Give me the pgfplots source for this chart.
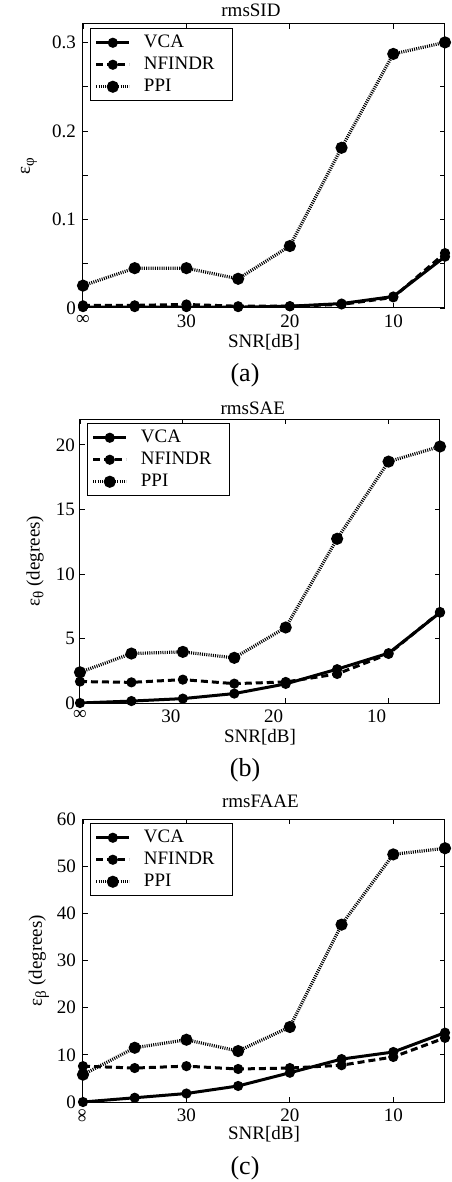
\documentclass[border=0pt]{standalone}
\usepackage{fontspec}
\setmainfont{Liberation Serif}
\usepackage{graphicx}
\usepackage{pgfplots}
\pgfplotsset{compat=1.18}

\newcommand{\fs}{\fontsize{9.5}{11}\selectfont}
\newcommand{\fcap}{\fontsize{13}{15}\selectfont}
\newcommand{\sub}[1]{\raisebox{-0.45ex}{\fontsize{7.5}{8}\selectfont #1}}

\pgfplotsset{
  panel/.style={
    scale only axis, width=181pt, height=142pt,
    xmin=5, xmax=40, x dir=reverse,
    xtick={40,30,20,10},
    tick align=inside, xtick pos=both, ytick pos=both,
    major tick length=2.5pt,
    axis line style={line width=0.5pt},
    every tick/.style={black, line width=0.4pt},
    tick label style={font=\fs},
    /pgf/number format/assume math mode=true,
    label style={font=\fs},
    xlabel={SNR[dB]},
    xlabel style={at={(axis description cs:0.5,0)}, anchor=center, yshift=-17pt},
    title style={font=\fs, anchor=center},
    legend style={at={(axis description cs:0.02,0.985)}, anchor=north west,
      font=\fs, draw=black, line width=0.5pt, inner xsep=2pt, inner ysep=1.5pt,
      /tikz/column sep=5pt,
      nodes={inner sep=1.5pt, text height=6.5pt, text depth=1.5pt, text width=41pt, align=left}},
    legend cell align=left,
    legend image code/.code={\draw[mark repeat=2, mark phase=2, #1]
      plot coordinates {(0pt,0pt) (8.25pt,0pt) (16.5pt,0pt)};},
  },
  vca/.style={black, line width=1.5pt, mark=*, mark size=1.75pt, mark options={solid}},
  nf/.style={black, line width=1.5pt, dash pattern=on 3.5pt off 2pt, mark=*, mark size=1.75pt, mark options={solid}},
  ppi/.style={black, line width=1.6pt, dash pattern=on 0.5pt off 0.6pt, mark=*, mark size=2.2pt, mark options={solid}},
}

\begin{document}
\begin{tikzpicture}
% (a)
\begin{axis}[panel, at={(41.5pt,-12pt)}, anchor=north west,
  ymin=0, ymax=0.3208,
  ytick={0,0.05,0.1,0.15,0.2,0.25,0.3},
  yticklabels={0,,0.1,,0.2,,0.3},
  xticklabels={∞,30,20,10},
  title={rmsSID},
  title style={at={(axis description cs:0.464,1)}, yshift=1pt},
  ylabel={ε\sub{φ}},
  ylabel style={at={(axis description cs:-0.149,0.5)}, anchor=center},
]
\addplot[vca] coordinates {(40,0.001) (35,0.001) (30,0.001) (25,0.001) (20,0.002) (15,0.005) (10,0.013) (5,0.058)};
\addplot[nf] coordinates {(40,0.003) (35,0.003) (30,0.004) (25,0.002) (20,0.002) (15,0.004) (10,0.012) (5,0.062)};
\addplot[ppi] coordinates {(40,0.0253) (35,0.045) (30,0.045) (25,0.033) (20,0.070) (15,0.181) (10,0.287) (5,0.300)};
\legend{VCA,NFINDR,PPI}
\end{axis}
% (b)
\begin{axis}[panel, at={(40pt,-209.5pt)}, anchor=north west, width=180pt,
  ymin=0, ymax=22,
  ytick={0,5,10,15,20},
  yticklabel style={xshift=1pt},
  xticklabels={{\hspace{12pt}∞},30,20,10},
  xticklabel style={xshift=-6pt},
  title={rmsSAE},
  title style={at={(axis description cs:0.48,1)}, yshift=-0.5pt},
  ylabel={ε\sub{θ} (degrees)},
  ylabel style={at={(axis description cs:-0.125,0.5)}, anchor=center},
]
\addplot[vca] coordinates {(40,0.0) (35,0.15) (30,0.34) (25,0.73) (20,1.48) (15,2.62) (10,3.86) (5,7.0)};
\addplot[nf] coordinates {(40,1.66) (35,1.6) (30,1.81) (25,1.5) (20,1.63) (15,2.25) (10,3.8) (5,7.05)};
\addplot[ppi] coordinates {(40,2.38) (35,3.83) (30,3.96) (25,3.5) (20,5.85) (15,12.72) (10,18.7) (5,19.87)};
\legend{VCA,NFINDR,PPI}
\end{axis}
% (c)
\begin{axis}[panel, at={(41.5pt,-409.5pt)}, anchor=north west, height=141.5pt,
  ymin=0, ymax=60,
  ytick={0,10,20,30,40,50,60},
  xticklabels={\rotatebox{90}{∞},30,20,10},
  title={rmsFAAE},
  title style={at={(axis description cs:0.49,1)}, yshift=3pt},
  xlabel style={yshift=1pt},
  ylabel={ε\sub{β} (degrees)},
  ylabel style={at={(axis description cs:-0.122,0.5)}, anchor=center},
]
\addplot[vca] coordinates {(40,0) (35,0.9) (30,1.8) (25,3.4) (20,6.2) (15,9.1) (10,10.6) (5,14.7)};
\addplot[nf] coordinates {(40,7.6) (35,7.2) (30,7.6) (25,7.0) (20,7.2) (15,7.8) (10,9.55) (5,13.6)};
\addplot[ppi] coordinates {(40,5.8) (35,11.5) (30,13.2) (25,10.8) (20,15.9) (15,37.6) (10,52.5) (5,53.8)};
\legend{VCA,NFINDR,PPI}
\end{axis}
\node[font=\fcap] at (122.5pt,-187.5pt) {(a)};
\node[font=\fcap] at (122.5pt,-385pt) {(b)};
\node[font=\fcap] at (122.5pt,-584pt) {(c)};
\pgfresetboundingbox
\path[use as bounding box] (0,0) rectangle (225.5pt,-591pt);
\end{tikzpicture}
\end{document}
